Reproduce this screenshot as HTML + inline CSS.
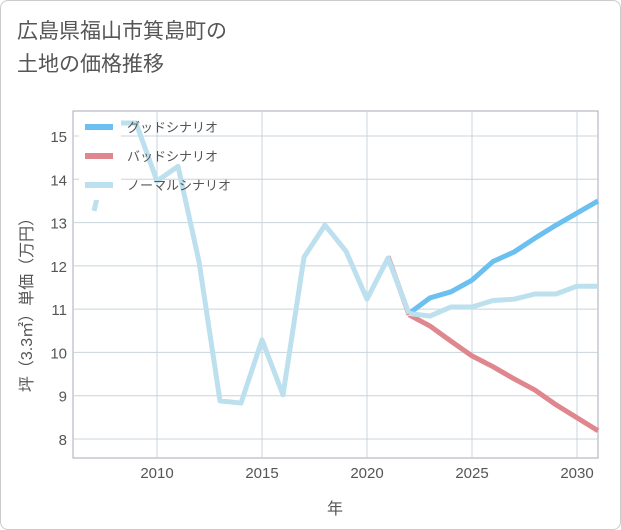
<!DOCTYPE html>
<html><head><meta charset="utf-8"><style>
body{margin:0;background:#fff;}
#wrap{position:relative;width:619px;height:528px;border:1px solid #ccc;border-radius:8px;background:#fff;overflow:hidden;font-family:"Liberation Sans","Noto Sans CJK JP",sans-serif;}
#title{position:absolute;left:16px;top:14px;font-size:21px;line-height:33px;color:#555;}
</style></head><body>
<div id="wrap">
<div id="title">広島県福山市箕島町の<br>土地の価格推移</div>
<svg id="chart" width="619" height="528" style="position:absolute;left:0;top:0"></svg>
</div>
<script>
const years=[2007,2008,2009,2010,2011,2012,2013,2014,2015,2016,2017,2018,2019,2020,2021,2022];
const histValues=[13.27,15.3,15.3,13.96,14.3,12.1,8.88,8.83,10.29,9.02,12.2,12.94,12.34,11.23,12.18,10.9];
const futureYears=[2022,2023,2024,2025,2026,2027,2028,2029,2030,2031];
const goodValues=[10.9,11.26,11.4,11.67,12.1,12.32,12.64,12.94,13.22,13.5];
const badValues=[10.87,10.61,10.26,9.92,9.67,9.39,9.13,8.79,8.49,8.19];
const normalValues=[10.9,10.84,11.05,11.05,11.2,11.23,11.35,11.35,11.53,11.53];
const xTicks=[2010,2015,2020,2025,2030];
const yTicks=[8,9,10,11,12,13,14,15];
const legendLabels=["グッドシナリオ","バッドシナリオ","ノーマルシナリオ"];
const NS="http://www.w3.org/2000/svg";
const svg=document.getElementById('chart');
const L=72,R=597,T=110,B=457;
const x=y=>L+(y-2006)*(R-L)/25;
const yS=v=>135+(15-v)*(438-135)/7;
function mk(t,a){const e=document.createElementNS(NS,t);for(const k in a)e.setAttribute(k,a[k]);svg.appendChild(e);return e;}
const bg=mk('rect',{x:L,y:T,width:R-L,height:B-T,fill:'#fff',stroke:'#aab',"stroke-width":1});


xTicks.forEach(t=>{
  const g=mk('line',{x1:x(t),x2:x(t),y1:T,y2:B,stroke:'#c8d4dc',"stroke-width":1});
  
  
  const tx=mk('text',{x:x(t),y:477,"text-anchor":'middle',"font-size":15,fill:'#555'});
  tx.textContent=t;
  
  
});
yTicks.forEach(t=>{
  const g=mk('line',{x1:L,x2:R,y1:yS(t),y2:yS(t),stroke:'#c8d4dc',"stroke-width":1});
  
  
  const tx=mk('text',{x:66,y:yS(t)+6,"text-anchor":'end',"font-size":15,fill:'#555'});
  tx.textContent=t;
  
  
});
const xt=mk('text',{x:334,y:513,"text-anchor":'middle',"font-size":16,fill:'#555'});
xt.textContent='年';


const yt=mk('text',{x:0,y:0,"text-anchor":'middle',"font-size":16,fill:'#555',transform:'translate(31,300) rotate(-90)'});
yt.textContent='坪（3.3㎡）単価（万円）';


function line(xs,vs,col,name){
  const p=mk('polyline',{points:xs.map((yr,i)=>x(yr)+','+yS(vs[i])).join(' '),fill:'none',stroke:col,"stroke-width":5,"stroke-linejoin":'round'});
  
  
}
line(futureYears,goodValues,'#6cc0f0','good-scenario-line');
line(futureYears,badValues,'#e0868e','bad-scenario-line');
line(years.slice(-2),[12.22,10.87],'#e0868e','bad-scenario-history');
line(years,histValues,'#bde0ee','history-line');
line(futureYears,normalValues,'#bde0ee','normal-scenario-line');
const lg=mk('rect',{x:78,y:112,width:42,height:87,fill:'#fff'});


const lcols=['#6cc0f0','#e0868e','#bde0ee'];
legendLabels.forEach((lab,i)=>{
  const yy=126+i*29;
  const s=mk('line',{x1:84,x2:112,y1:yy,y2:yy,stroke:lcols[i],"stroke-width":6});
  
  
  const t=mk('text',{x:126,y:yy+5,"font-size":13,fill:'#555'});
  t.textContent=lab;
  
  
});
</script>
</body></html>
